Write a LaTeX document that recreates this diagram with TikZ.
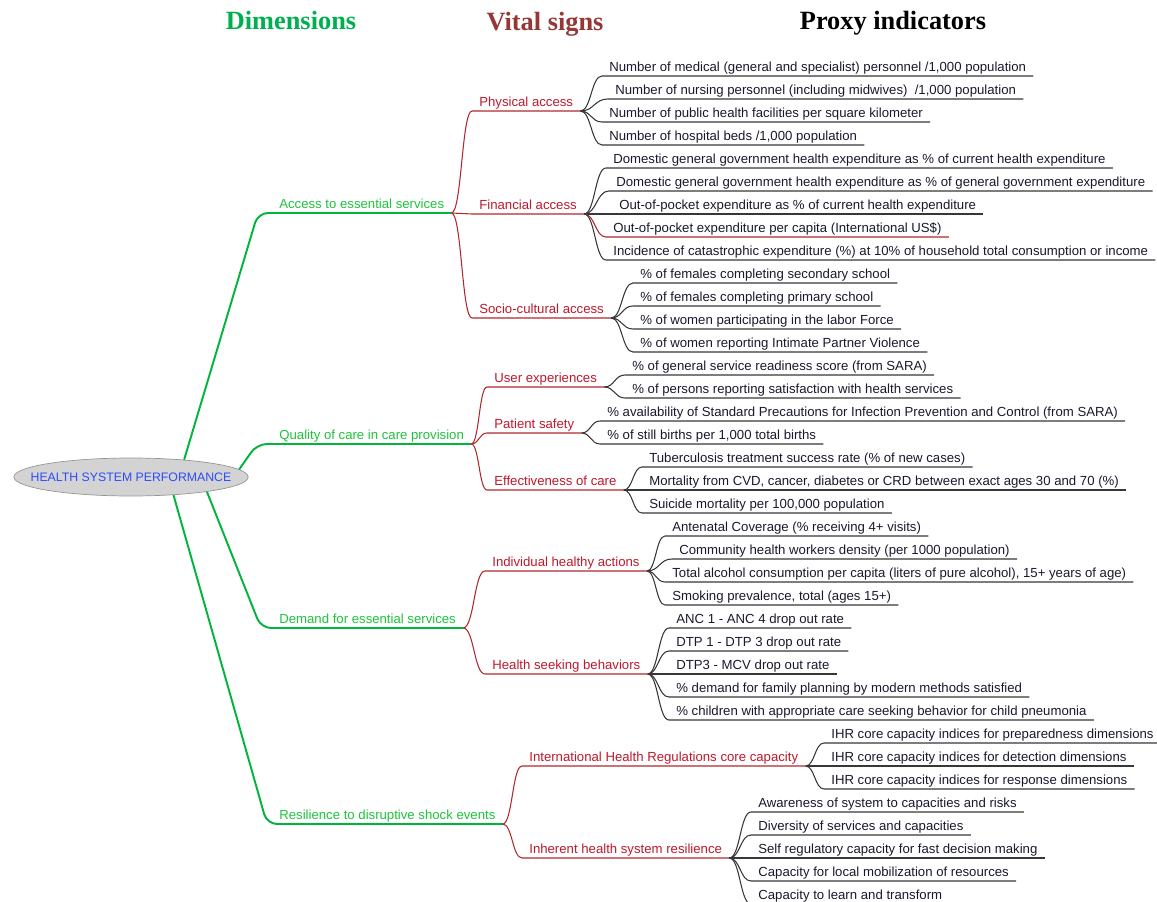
\documentclass[tikz,border=0pt]{standalone}
\usepackage{fontspec}
\setmainfont{Liberation Serif}
\newfontfamily\mapfont{Liberation Sans}
\usepackage{tikz}
\usetikzlibrary{calc,shapes.geometric}
\definecolor{dimtext}{RGB}{30,195,60}
\definecolor{dimline}{RGB}{0,180,60}
\definecolor{vitaltext}{RGB}{190,25,45}
\definecolor{vitalline}{RGB}{175,40,45}
\definecolor{proxytext}{RGB}{25,25,45}
\definecolor{proxyline}{RGB}{55,55,55}
\definecolor{dimhead}{RGB}{0,176,80}
\definecolor{vitalhead}{RGB}{149,55,53}
\definecolor{rootfill}{RGB}{211,211,211}
\definecolor{rootdraw}{RGB}{150,150,150}
\definecolor{roottext}{RGB}{45,75,250}
\tikzset{
    mapcurve/.style = {
        to path={.. controls ($(\tikztostart)!0.5!(\tikztotarget |- \tikztostart)$)
            and ($(\tikztotarget)!0.5!(\tikztostart |- \tikztotarget)$) .. (\tikztotarget) \tikztonodes}
    },
    topic/.style = {
        anchor=south west,
        font=\mapfont\fontsize{7.5}{9}\selectfont,
        inner xsep=0.14cm,
        inner ysep=0.08cm,
        text depth=0pt
    },
    dimnode/.style = {topic, text=dimtext},
    vitalnode/.style = {topic, text=vitaltext},
    proxynode/.style = {topic, text=proxytext},
    rootnode/.style = {
        draw=rootdraw,
        fill=rootfill,
        shape=ellipse,
        minimum height=0.76cm,
        inner xsep=-0.35cm,
        inner ysep=0pt,
        text=roottext,
        font=\mapfont\fontsize{7}{8}\selectfont
    },
    heading/.style = {
        anchor=base,
        font=\bfseries\fontsize{15}{18}\selectfont
    },
    dimlink/.style = {draw=dimline, line width=1.1pt, rounded corners=0.2cm},
    vitallink/.style = {draw=vitalline, line width=0.6pt, mapcurve},
    proxylink/.style = {draw=proxyline, line width=0.6pt, mapcurve},
}
\begin{document}
\begin{tikzpicture}[x=0.02cm, y=-0.02cm]
            \useasboundingbox (0,0) rectangle (1157,902);
            % column titles
            \node[heading, text=dimhead] (hdim) at (291,30) {Dimensions};
            \node[heading, text=vitalhead] (hvital) at (545,31) {Vital signs};
            \node[heading] (hproxy) at (893,30) {Proxy indicators};

            \node[rootnode] (root) at (131,477) {HEALTH SYSTEM PERFORMANCE};

            % dimensions
            \node[dimnode] (access) at (272,213) {Access to essential services};
            \node[dimnode] (quality) at (272,444) {Quality of care in care provision};
            \node[dimnode] (demand) at (272,628) {Demand for essential services};
            \node[dimnode] (resil) at (272,824) {Resilience to disruptive shock events};

            % vital signs
            \node[vitalnode] (phys) at (472,111) {Physical access};
            \node[vitalnode] (fin) at (472,214) {Financial access};
            \node[vitalnode] (socio) at (472,318) {Socio-cultural access};
            \node[vitalnode] (user) at (487,387) {User experiences};
            \node[vitalnode] (safety) at (487,433) {Patient safety};
            \node[vitalnode] (effect) at (487,490) {Effectiveness of care};
            \node[vitalnode] (indiv) at (485,571) {Individual healthy actions};
            \node[vitalnode] (seek) at (485,674) {Health seeking behaviors};
            \node[vitalnode] (ihr) at (522,766) {International Health Regulations core capacity};
            \node[vitalnode] (inher) at (522,858) {Inherent health system resilience};

            % proxy indicators
            \node[proxynode] (l1) at (602,76) {Number of medical (general and specialist) personnel /1,000 population};
            \node[proxynode] (l2) at (608,99) {Number of nursing personnel (including midwives)~ /1,000 population};
            \node[proxynode] (l3) at (602,122) {Number of public health facilities per square kilometer};
            \node[proxynode] (l4) at (602,145) {Number of hospital beds /1,000 population};
            \node[proxynode] (l5) at (606,168) {Domestic general government health expenditure as \% of current health expenditure};
            \node[proxynode] (l6) at (609,191) {Domestic general government health expenditure as \% of general government expenditure};
            \node[proxynode] (l7) at (612,214) {Out-of-pocket expenditure as \% of current health expenditure};
            \node[proxynode] (l8) at (606,237) {Out-of-pocket expenditure per capita (International US\$)};
            \node[proxynode] (l9) at (606,260) {Incidence of catastrophic expenditure (\%) at 10\% of household total consumption or income};
            \node[proxynode] (l10) at (633,283) {\% of females completing secondary school};
            \node[proxynode] (l11) at (633,306) {\% of females completing primary school};
            \node[proxynode] (l12) at (633,329) {\% of women participating in the labor Force};
            \node[proxynode] (l13) at (633,352) {\% of women reporting Intimate Partner Violence};
            \node[proxynode] (l14) at (625,375) {\% of general service readiness score (from SARA)};
            \node[proxynode] (l15) at (625,398) {\% of persons reporting satisfaction with health services};
            \node[proxynode] (l16) at (600,421) {\% availability of Standard Precautions for Infection Prevention and Control (from SARA)};
            \node[proxynode] (l17) at (600,444) {\% of still births per 1,000 total births};
            \node[proxynode] (l18) at (642,467) {Tuberculosis treatment success rate (\% of new cases)};
            \node[proxynode] (l19) at (642,490) {Mortality from CVD, cancer, diabetes or CRD between exact ages 30 and 70 (\%)};
            \node[proxynode] (l20) at (642,513) {Suicide mortality per 100,000 population};
            \node[proxynode] (l21) at (665,536) {Antenatal Coverage (\% receiving 4+ visits)};
            \node[proxynode] (l22) at (672,559) {Community health workers density (per 1000 population)};
            \node[proxynode] (l23) at (665,582) {Total alcohol consumption per capita (liters of pure alcohol), 15+ years of age)};
            \node[proxynode] (l24) at (665,605) {Smoking prevalence, total (ages 15+)};
            \node[proxynode] (l25) at (669,628) {ANC 1 - ANC 4 drop out rate};
            \node[proxynode] (l26) at (669,651) {DTP 1 - DTP 3 drop out rate};
            \node[proxynode] (l27) at (669,674) {DTP3 - MCV drop out rate};
            \node[proxynode] (l28) at (669,697) {\% demand for family planning by modern methods satisfied};
            \node[proxynode] (l29) at (669,720) {\% children with appropriate care seeking behavior for child pneumonia};
            \node[proxynode] (l30) at (824,743) {IHR core capacity indices for preparedness dimensions};
            \node[proxynode] (l31) at (824,766) {IHR core capacity indices for detection dimensions};
            \node[proxynode] (l32) at (824,789) {IHR core capacity indices for response dimensions};
            \node[proxynode] (l33) at (751,812) {Awareness of system to capacities and risks};
            \node[proxynode] (l34) at (751,835) {Diversity of services and capacities};
            \node[proxynode] (l35) at (751,858) {Self regulatory capacity for fast decision making};
            \node[proxynode] (l36) at (751,881) {Capacity for local mobilization of resources};
            \node[proxynode] (l37) at (751,904) {Capacity to learn and transform};

            % root to dimensions
            \path[draw, dimlink] (root.18) -- ($(access.south west)+(-14,0)$) -- (access.south east);
            \path[draw, dimlink] (root.4) -- ($(quality.south west)+(-15,0)$) -- (quality.south east);
            \path[draw, dimlink] (root.-11) -- ($(demand.south west)+(-11,0)$) -- (demand.south east);
            \path[draw, dimlink] (root.-23) -- ($(resil.south west)+(-5,0)$) -- (resil.south east);

            % dimensions to vital signs
            \path[draw, vitallink] (access.south east) to (phys.south west) -- (phys.south east);
            \path[draw, vitallink] (access.south east) to (fin.south west) -- (fin.south east);
            \path[draw, vitallink] (access.south east) to (socio.south west) -- (socio.south east);
            \path[draw, vitallink] (quality.south east) to (user.south west) -- (user.south east);
            \path[draw, vitallink] (quality.south east) to (safety.south west) -- (safety.south east);
            \path[draw, vitallink] (quality.south east) to (effect.south west) -- (effect.south east);
            \path[draw, vitallink] (demand.south east) to (indiv.south west) -- (indiv.south east);
            \path[draw, vitallink] (demand.south east) to (seek.south west) -- (seek.south east);
            \path[draw, vitallink] (resil.south east) to (ihr.south west) -- (ihr.south east);
            \path[draw, vitallink] (resil.south east) to (inher.south west) -- (inher.south east);

            % vital signs to proxy indicators
            \path[draw, proxylink] (phys.south east) to (l1.south west) -- (l1.south east);
            \path[draw, proxylink] (phys.south east) to (l2.south west) -- (l2.south east);
            \path[draw, proxylink] (phys.south east) to (l3.south west) -- (l3.south east);
            \path[draw, proxylink] (phys.south east) to (l4.south west) -- (l4.south east);
            \path[draw, proxylink] (fin.south east) to (l5.south west) -- (l5.south east);
            \path[draw, proxylink] (fin.south east) to (l6.south west) -- (l6.south east);
            \path[draw, proxylink] (fin.south east) to (l7.south west) -- (l7.south east);
            \path[draw, proxylink, draw=vitalline] (fin.south east) to (l8.south west) -- (l8.south east);
            \path[draw, proxylink] (fin.south east) to (l9.south west) -- (l9.south east);
            \path[draw, proxylink] (socio.south east) to (l10.south west) -- (l10.south east);
            \path[draw, proxylink] (socio.south east) to (l11.south west) -- (l11.south east);
            \path[draw, proxylink] (socio.south east) to (l12.south west) -- (l12.south east);
            \path[draw, proxylink] (socio.south east) to (l13.south west) -- (l13.south east);
            \path[draw, proxylink] (user.south east) to (l14.south west) -- (l14.south east);
            \path[draw, proxylink] (user.south east) to (l15.south west) -- (l15.south east);
            \path[draw, proxylink] (safety.south east) to (l16.south west) -- (l16.south east);
            \path[draw, proxylink] (safety.south east) to (l17.south west) -- (l17.south east);
            \path[draw, proxylink] (effect.south east) to (l18.south west) -- (l18.south east);
            \path[draw, proxylink] (effect.south east) to (l19.south west) -- (l19.south east);
            \path[draw, proxylink] (effect.south east) to (l20.south west) -- (l20.south east);
            \path[draw, proxylink] (indiv.south east) to (l21.south west) -- (l21.south east);
            \path[draw, proxylink] (indiv.south east) to (l22.south west) -- (l22.south east);
            \path[draw, proxylink] (indiv.south east) to (l23.south west) -- (l23.south east);
            \path[draw, proxylink] (indiv.south east) to (l24.south west) -- (l24.south east);
            \path[draw, proxylink] (seek.south east) to (l25.south west) -- (l25.south east);
            \path[draw, proxylink] (seek.south east) to (l26.south west) -- (l26.south east);
            \path[draw, proxylink] (seek.south east) to (l27.south west) -- (l27.south east);
            \path[draw, proxylink] (seek.south east) to (l28.south west) -- (l28.south east);
            \path[draw, proxylink] (seek.south east) to (l29.south west) -- (l29.south east);
            \path[draw, proxylink] (ihr.south east) to (l30.south west) -- (l30.south east);
            \path[draw, proxylink] (ihr.south east) to (l31.south west) -- (l31.south east);
            \path[draw, proxylink] (ihr.south east) to (l32.south west) -- (l32.south east);
            \path[draw, proxylink] (inher.south east) to (l33.south west) -- (l33.south east);
            \path[draw, proxylink] (inher.south east) to (l34.south west) -- (l34.south east);
            \path[draw, proxylink] (inher.south east) to (l35.south west) -- (l35.south east);
            \path[draw, proxylink] (inher.south east) to (l36.south west) -- (l36.south east);
            \path[draw, proxylink] (inher.south east) to (l37.south west) -- (l37.south east);
\end{tikzpicture}
\end{document}
